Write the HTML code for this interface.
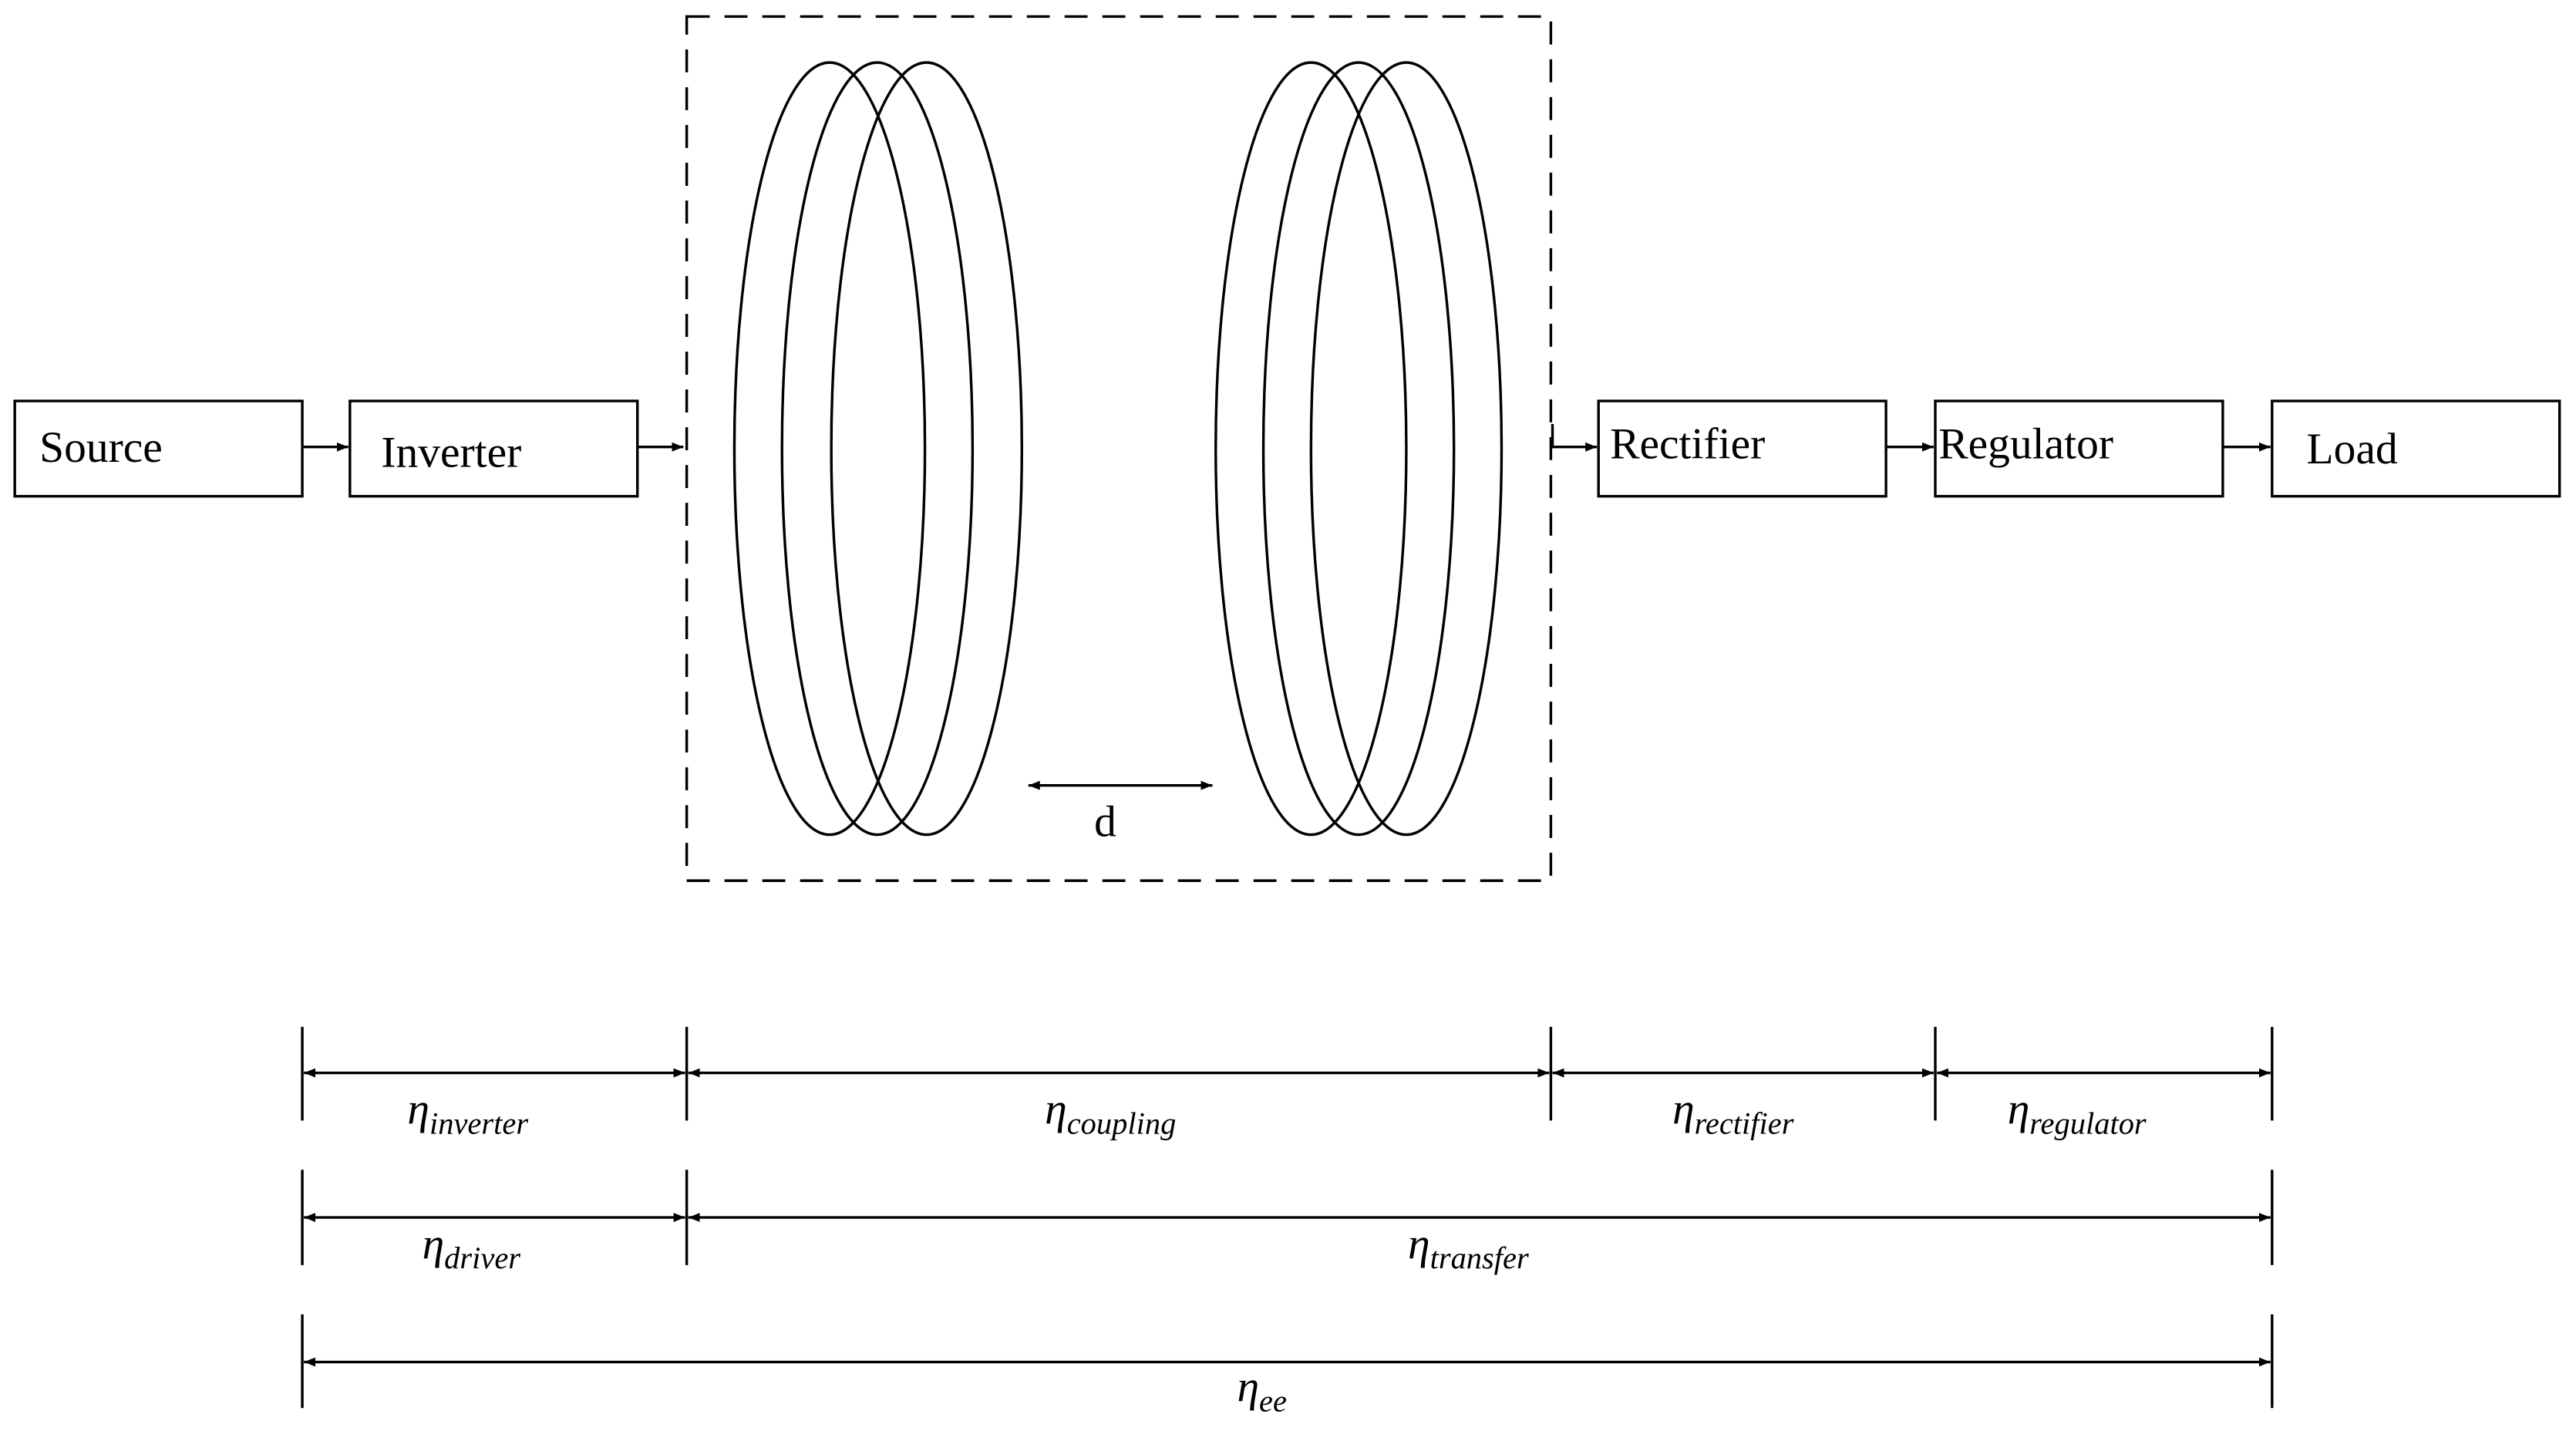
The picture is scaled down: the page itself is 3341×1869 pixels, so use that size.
<!DOCTYPE html>
<html><head><meta charset="utf-8"><style>
html,body{margin:0;padding:0;background:#fff;}
svg{display:block;}
text{font-family:"Liberation Serif",serif;fill:#000;}
.b{font-size:27px;}
.e{font-size:27px;font-style:italic;}
.s{font-size:19px;font-style:italic;}
</style></head><body>
<svg width="3341" height="1869" viewBox="0 0 1568 877" xmlns="http://www.w3.org/2000/svg">
<defs>
<marker id="a" viewBox="0 0 10 10" refX="10" refY="5" markerWidth="7" markerHeight="7" orient="auto-start-reverse" markerUnits="userSpaceOnUse"><path d="M0,1 L10,5 L0,9 z" fill="#000"/></marker>
</defs>
<g fill="none" stroke="#000" stroke-width="1.6">
<rect x="9" y="244" width="175" height="58"/>
<rect x="213" y="244" width="175" height="58"/>
<rect x="973" y="244" width="175" height="58"/>
<rect x="1178" y="244" width="175" height="58"/>
<rect x="1383" y="244" width="175" height="58"/>
<rect x="418" y="10" width="526" height="526" stroke-dasharray="14,9"/>
<ellipse cx="505" cy="273" rx="58" ry="235"/>
<ellipse cx="534" cy="273" rx="58" ry="235"/>
<ellipse cx="564" cy="273" rx="58" ry="235"/>
<ellipse cx="798" cy="273" rx="58" ry="235"/>
<ellipse cx="827" cy="273" rx="58" ry="235"/>
<ellipse cx="856" cy="273" rx="58" ry="235"/>
<line x1="184" y1="272" x2="212" y2="272" marker-end="url(#a)"/>
<line x1="388" y1="272" x2="416" y2="272" marker-end="url(#a)"/>
<polyline points="945,258 945,272 972,272" marker-end="url(#a)"/>
<line x1="1148" y1="272" x2="1177" y2="272" marker-end="url(#a)"/>
<line x1="1353" y1="272" x2="1382" y2="272" marker-end="url(#a)"/>
<line x1="626" y1="478" x2="738" y2="478" marker-start="url(#a)" marker-end="url(#a)"/>
<!-- ticks -->
<line x1="184" y1="625" x2="184" y2="682"/><line x1="418" y1="625" x2="418" y2="682"/>
<line x1="944" y1="625" x2="944" y2="682"/><line x1="1178" y1="625" x2="1178" y2="682"/>
<line x1="1383" y1="625" x2="1383" y2="682"/>
<line x1="184" y1="712" x2="184" y2="770"/><line x1="418" y1="712" x2="418" y2="770"/>
<line x1="1383" y1="712" x2="1383" y2="770"/>
<line x1="184" y1="800" x2="184" y2="857"/><line x1="1383" y1="800" x2="1383" y2="857"/>
<!-- dimension arrows -->
<line x1="185" y1="653" x2="417" y2="653" marker-start="url(#a)" marker-end="url(#a)"/>
<line x1="419" y1="653" x2="943" y2="653" marker-start="url(#a)" marker-end="url(#a)"/>
<line x1="945" y1="653" x2="1177" y2="653" marker-start="url(#a)" marker-end="url(#a)"/>
<line x1="1179" y1="653" x2="1382" y2="653" marker-start="url(#a)" marker-end="url(#a)"/>
<line x1="185" y1="741" x2="417" y2="741" marker-start="url(#a)" marker-end="url(#a)"/>
<line x1="419" y1="741" x2="1382" y2="741" marker-start="url(#a)" marker-end="url(#a)"/>
<line x1="185" y1="829" x2="1382" y2="829" marker-start="url(#a)" marker-end="url(#a)"/>
</g>
<text class="b" x="24" y="281">Source</text>
<text class="b" x="232" y="284">Inverter</text>
<text class="b" x="980" y="279">Rectifier</text>
<text class="b" x="1180" y="279">Regulator</text>
<text class="b" x="1404" y="282">Load</text>
<text class="b" x="666" y="509">d</text>
<text x="248" y="684"><tspan class="e">η</tspan><tspan class="s" dy="6">inverter</tspan></text>
<text x="636" y="684"><tspan class="e">η</tspan><tspan class="s" dy="6">coupling</tspan></text>
<text x="1018" y="684"><tspan class="e">η</tspan><tspan class="s" dy="6">rectifier</tspan></text>
<text x="1222" y="684"><tspan class="e">η</tspan><tspan class="s" dy="6">regulator</tspan></text>
<text x="257" y="766"><tspan class="e">η</tspan><tspan class="s" dy="6">driver</tspan></text>
<text x="857" y="766"><tspan class="e">η</tspan><tspan class="s" dy="6">transfer</tspan></text>
<text x="753" y="853"><tspan class="e">η</tspan><tspan class="s" dy="6">ee</tspan></text>
</svg>
</body></html>
